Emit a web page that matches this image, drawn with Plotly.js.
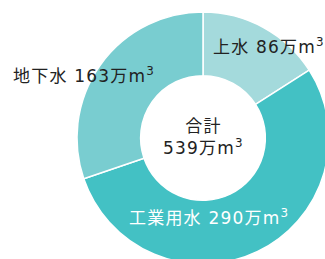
<!DOCTYPE html>
<html>
<head>
<meta charset="utf-8">
<script src="https://cdn.plot.ly/plotly-3.0.1.min.js"></script>
<style>
html,body{margin:0;padding:0;width:325px;height:259px;overflow:hidden;background:#fff;}
#chart{position:absolute;left:0;top:0;width:340px;height:280px;}
text{letter-spacing:1.2px;}
</style>
</head>
<body>
<div id="chart"></div>
<script>
const categories = ["上水", "工業用水", "地下水"];
const values = [86, 290, 163];
const unit = "万m<sup>3</sup>";
const colors = ["#a4dadc", "#43c1c4", "#79cdd0"];
const total = values.reduce((a, b) => a + b, 0);

const W = 340, H = 280;
const cx = 203, cy = 138, r = 126;
function px(x){return x / W;}
function py(y){return 1 - y / H;}

const trace = {
  type: "pie",
  labels: categories,
  values: values,
  sort: false,
  direction: "clockwise",
  rotation: 0,
  hole: 0.495,
  textinfo: "none",
  hoverinfo: "none",
  marker: {colors: colors, line: {color: "#ffffff", width: 1.5}},
  domain: {x: [px(cx - r), px(cx + r)], y: [py(cy + r), py(cy - r)]},
  showlegend: false
};

const font = {family: "DejaVu Sans, Noto Sans CJK JP, sans-serif", size: 17, color: "#222222"};
const labelPos = [
  {x: 211, y: 46, color: "#222222"},
  {x: 127, y: 217, color: "#ffffff"},
  {x: 11, y: 75, color: "#222222"}
];
const annotations = categories.map((c, i) => ({
  text: c + " " + values[i] + unit,
  x: px(labelPos[i].x), y: py(labelPos[i].y), xref: "paper", yref: "paper",
  xanchor: "left", yanchor: "middle", showarrow: false,
  font: Object.assign({}, font, {color: labelPos[i].color})
}));
annotations.push({
  text: "合計<br>" + total + unit,
  x: px(cx), y: py(137), xref: "paper", yref: "paper",
  xanchor: "center", yanchor: "middle", showarrow: false,
  font: font
});

Plotly.newPlot("chart", [trace], {
  width: W, height: H,
  margin: {l: 0, r: 0, t: 0, b: 0},
  paper_bgcolor: "#ffffff",
  annotations: annotations
}, {displayModeBar: false, staticPlot: true});
</script>
</body>
</html>
